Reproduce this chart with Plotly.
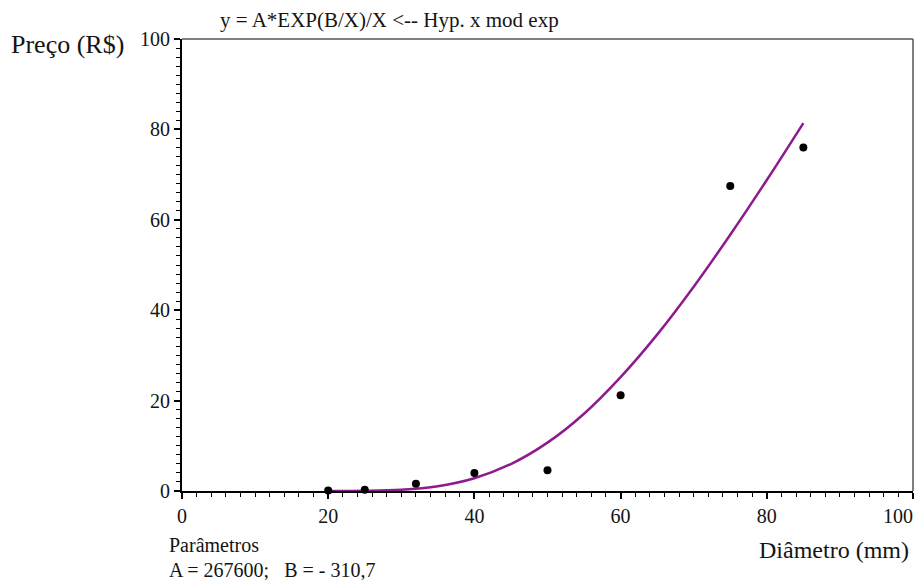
import plotly.graph_objects as go

# Observed data
diam_obs = [20, 25, 32, 40, 50, 60, 75, 85]
preco_obs = [0.1, 0.3, 1.6, 4.0, 4.6, 21.2, 67.5, 76.0]

# Fitted curve
diam_fit = [20, 25, 30, 35, 40, 45, 50, 55, 60, 65, 70, 75, 80, 85]
preco_fit = [0.0, 0.04, 0.28, 1.07, 2.83, 5.97, 10.7, 17.1, 25.2, 34.6, 45.2, 56.7, 68.8, 81.4]

x_ticks = [0, 20, 40, 60, 80, 100]
y_ticks = [0, 20, 40, 60, 80, 100]

FONT = "Liberation Serif, Times New Roman, serif"
TXT = "#141414"

fig = go.Figure()
fig.add_trace(go.Scatter(x=diam_fit, y=preco_fit, mode="lines",
                         line=dict(color="#8e1a8e", width=2.5, shape="spline"),
                         showlegend=False, cliponaxis=False))
fig.add_trace(go.Scatter(x=diam_obs, y=preco_obs, mode="markers",
                         marker=dict(color="black", size=8),
                         showlegend=False, cliponaxis=False))

# last x tick label drawn right-aligned at the edge (as in the original)
x_text = [str(v) for v in x_ticks[:-1]] + [""]

fig.update_layout(
    width=917, height=580,
    margin=dict(l=182, r=4, t=39, b=89),
    paper_bgcolor="white", plot_bgcolor="white",
    font=dict(family=FONT, size=20, color=TXT),
    xaxis=dict(range=[0, 100], tickvals=x_ticks, ticktext=x_text, ticks="outside", ticklen=6, tickwidth=2,
               tickcolor="black", showgrid=False, zeroline=False,
               showline=True, linecolor="black", linewidth=2, mirror=False,
               minor=dict(dtick=2, ticks="outside", ticklen=4, tickcolor="black", tickwidth=1),
               tickfont=dict(family=FONT, size=20, color=TXT)),
    yaxis=dict(range=[0, 100], tickvals=y_ticks, ticks="outside", ticklen=6, tickwidth=2,
               tickcolor="black", showgrid=False, zeroline=False,
               showline=True, linecolor="black", linewidth=2, mirror=False,
               minor=dict(dtick=2, ticks="outside", ticklen=4, tickcolor="black", tickwidth=1),
               tickfont=dict(family=FONT, size=20, color=TXT)),
    shapes=[
        dict(type="line", xref="paper", yref="paper", x0=0, x1=1, y0=1, y1=1,
             line=dict(color="#555", width=1.5)),
        dict(type="line", xref="paper", yref="paper", x0=1, x1=1, y0=0, y1=1,
             line=dict(color="#555", width=1.5)),
    ],
    annotations=[
        dict(text=str(x_ticks[-1]), xref="paper", yref="paper", x=1.003, y=-0.056,
             xanchor="right", yanchor="middle", showarrow=False,
             font=dict(family=FONT, size=20, color=TXT)),
        dict(text="Preço (R$)", xref="paper", yref="paper", x=-0.236, y=0.987,
             xanchor="left", yanchor="middle", showarrow=False,
             font=dict(family=FONT, size=26, color=TXT)),
        dict(text="y = A*EXP(B/X)/X <-- Hyp. x mod exp", xref="paper", yref="paper",
             x=0.049, y=1.042, xanchor="left", yanchor="middle", showarrow=False,
             font=dict(family=FONT, size=21, color=TXT)),
        dict(text="Parâmetros", xref="paper", yref="paper", x=-0.021, y=-0.119,
             xanchor="left", yanchor="middle", showarrow=False,
             font=dict(family=FONT, size=20, color=TXT)),
        dict(text="A = 267600;   B = - 310,7", xref="paper", yref="paper", x=-0.021, y=-0.175,
             xanchor="left", yanchor="middle", showarrow=False,
             font=dict(family=FONT, size=20, color=TXT)),
        dict(text="Diâmetro (mm)", xref="paper", yref="paper", x=0.997, y=-0.13,
             xanchor="right", yanchor="middle", showarrow=False,
             font=dict(family=FONT, size=24, color=TXT)),
    ],
)

fig.write_html("out.html")
